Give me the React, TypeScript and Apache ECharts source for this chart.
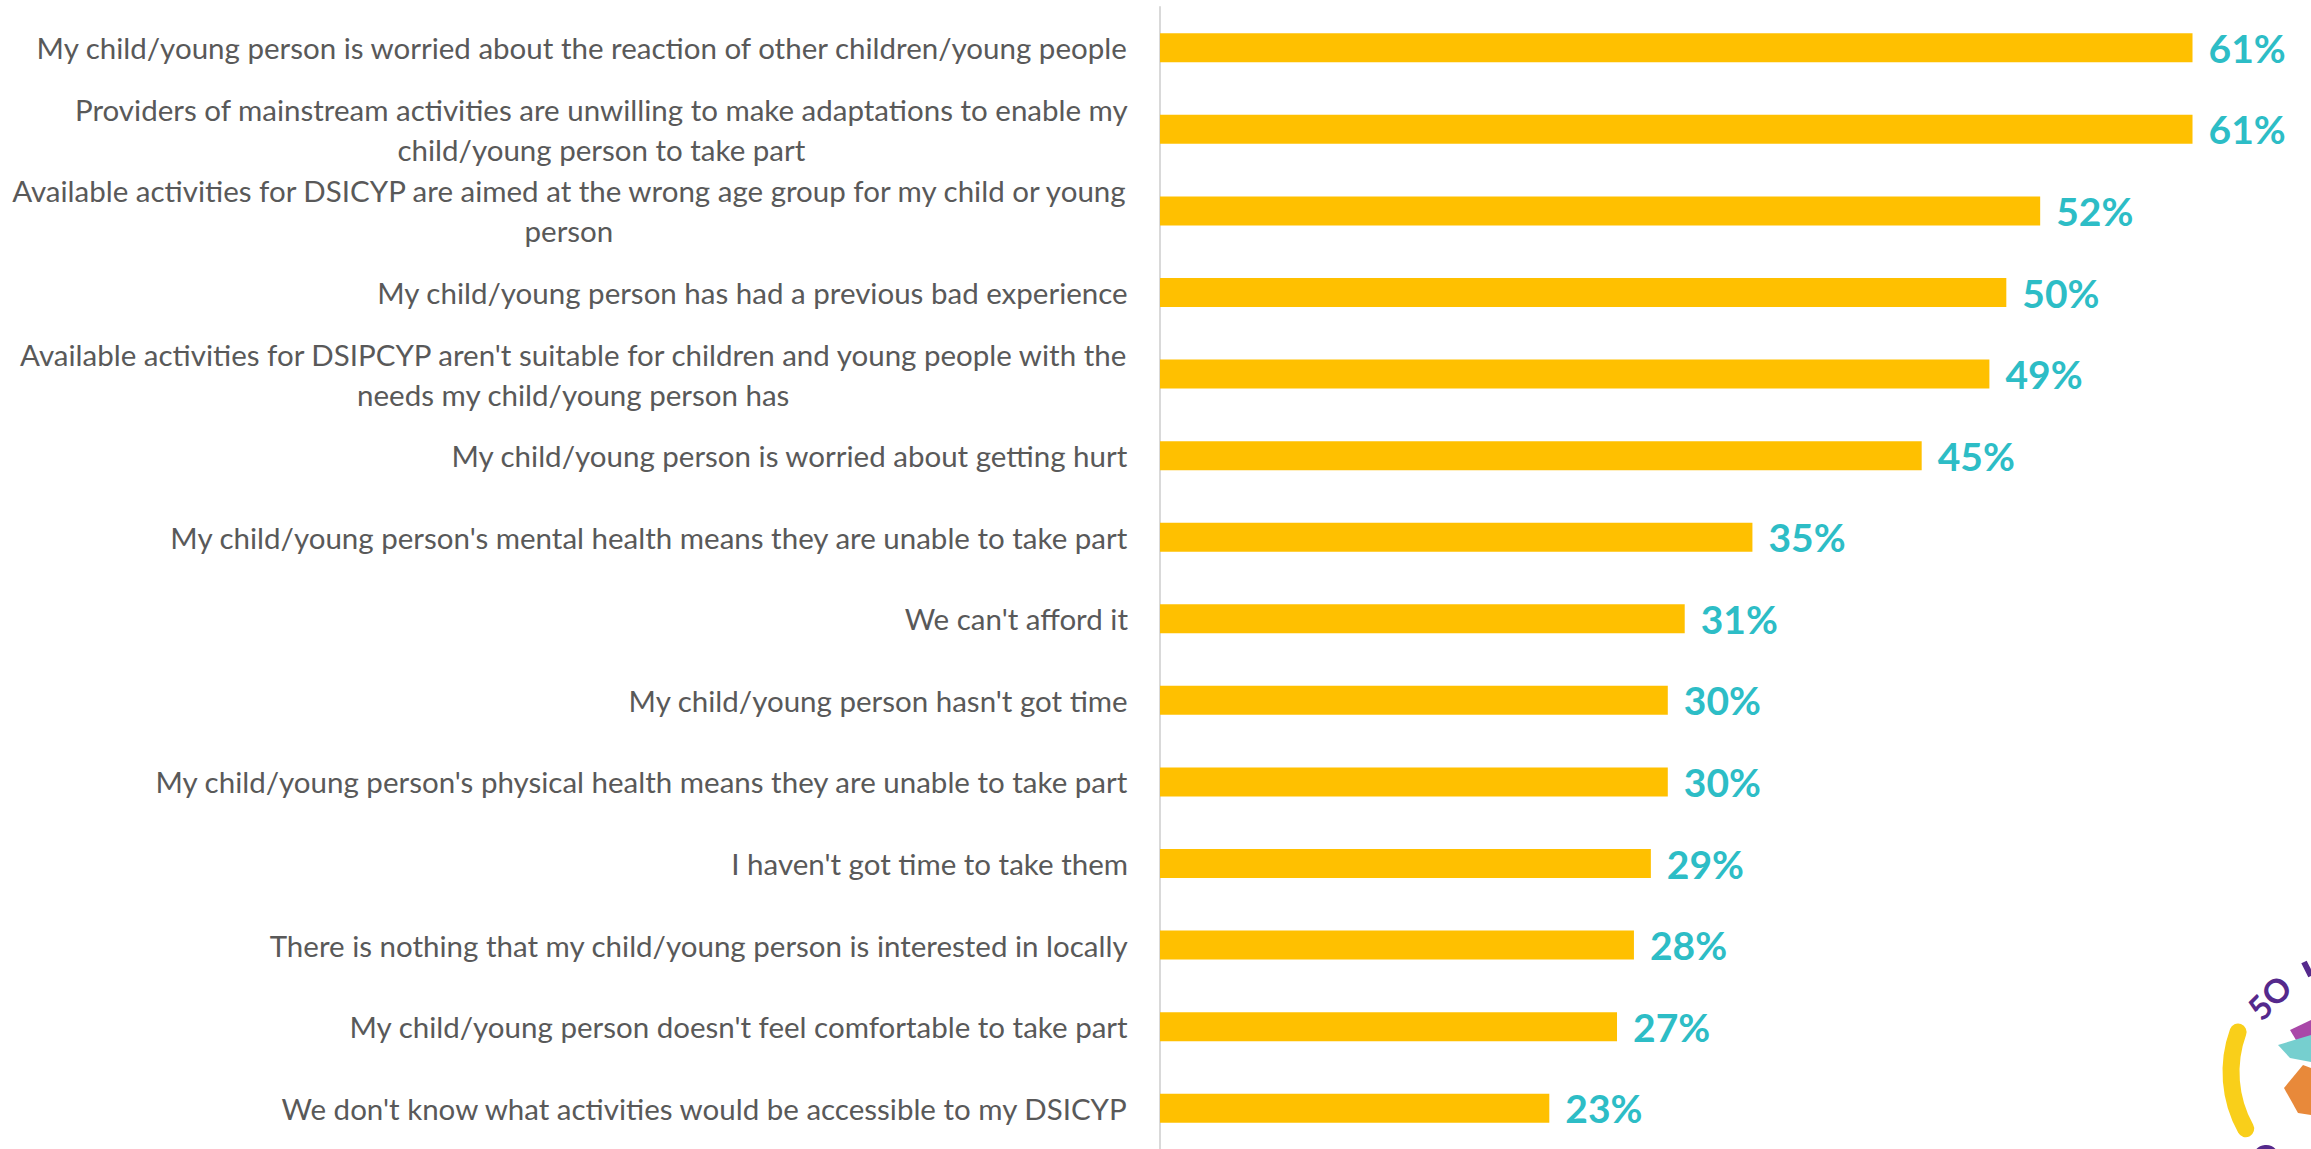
import React, { useEffect, useRef } from "react";
import * as echarts from "echarts";

const categories: string[] = [
  "My child/young person is worried about the reaction of other children/young people",
  "Providers of mainstream activities are unwilling to make adaptations to enable my\nchild/young person to take part",
  "Available activities for DSICYP are aimed at the wrong age group for my child or young\nperson",
  "My child/young person has had a previous bad experience",
  "Available activities for DSIPCYP aren't suitable for children and young people with the\nneeds my child/young person has",
  "My child/young person is worried about getting hurt",
  "My child/young person's mental health means they are unable to take part",
  "We can't afford it",
  "My child/young person hasn't got time",
  "My child/young person's physical health means they are unable to take part",
  "I haven't got time to take them",
  "There is nothing that my child/young person is interested in locally",
  "My child/young person doesn't feel comfortable to take part",
  "We don't know what activities would be accessible to my DSICYP",
];

const values: number[] = [61, 61, 52, 50, 49, 45, 35, 31, 30, 30, 29, 28, 27, 23];

export default function App() {
  const ref = useRef<HTMLDivElement>(null);
  useEffect(() => {
    if (!ref.current) return;
    const chart = echarts.init(ref.current, null, { renderer: "svg" });
    chart.setOption({
      animation: false,
      backgroundColor: "#ffffff",
      grid: { left: 1160, top: 7, width: 1157, height: 1148, containLabel: false },
      xAxis: {
        type: "value",
        min: 0,
        max: 68,
        show: false,
        splitLine: { show: false },
      },
      yAxis: {
        type: "category",
        data: categories,
        inverse: true,
        axisTick: { show: false },
        axisLine: { show: true, lineStyle: { color: "#D9D9D9", width: 2 } },
        axisLabel: {
          margin: 32,
          color: "#595959",
          fontFamily: "Lato",
          fontSize: 29.5,
          lineHeight: 40,
          formatter: (v: string) =>
            v
              .split("\n")
              .map((l) => `{c|${l}}`)
              .join("\n"),
          rich: {
            c: {
              align: "center",
              color: "#595959",
              fontFamily: "Lato",
              fontSize: 29.5,
              lineHeight: 40,
            },
          },
        },
      },
      series: [
        {
          type: "bar",
          data: values,
          barWidth: 29,
          itemStyle: { color: "#FFC000" },
          label: {
            show: true,
            position: "right",
            distance: 16,
            formatter: "{c}%",
            color: "#2DBDC6",
            fontFamily: "Lato",
            fontWeight: "bold",
            fontSize: 39,
          },
        },
      ],
      graphic: [
        {
          type: "arc",
          shape: { cx: 2348, cy: 1072, r: 117, startAngle: (151 * Math.PI) / 180, endAngle: (200 * Math.PI) / 180 },
          style: { stroke: "#F9CF1A", lineWidth: 17, lineCap: "round", fill: null },
          silent: true,
        },
        {
          type: "text",
          x: 2269,
          y: 997,
          rotation: Math.PI / 4,
          style: { text: "5O", fill: "#55298C", font: "bold 33px Lato", align: "center", verticalAlign: "middle" },
          silent: true,
        },
        {
          type: "polyline",
          shape: { points: [[2304, 962], [2311, 976]] },
          style: { stroke: "#55298C", lineWidth: 6 },
          silent: true,
        },
        {
          type: "polygon",
          shape: { points: [[2290, 1030], [2311, 1020], [2311, 1042], [2296, 1040]] },
          style: { fill: "#A948A8" },
          silent: true,
        },
        {
          type: "polygon",
          shape: { points: [[2278, 1045], [2311, 1035], [2311, 1062], [2290, 1058]] },
          style: { fill: "#76CFCF" },
          silent: true,
        },
        {
          type: "polygon",
          shape: { points: [[2284, 1088], [2303, 1065], [2311, 1068], [2311, 1115], [2298, 1113]] },
          style: { fill: "#E8893A" },
          silent: true,
        },
        {
          type: "arc",
          shape: { cx: 2266, cy: 1158, r: 10, startAngle: (200 * Math.PI) / 180, endAngle: (330 * Math.PI) / 180 },
          style: { stroke: "#55298C", lineWidth: 6, fill: null },
          silent: true,
        },
      ],
    });
    return () => chart.dispose();
  }, []);
  return (
    <div
      ref={ref}
      style={{ position: "absolute", left: 0, top: 0, width: 2311, height: 1149 }}
    />
  );
}
